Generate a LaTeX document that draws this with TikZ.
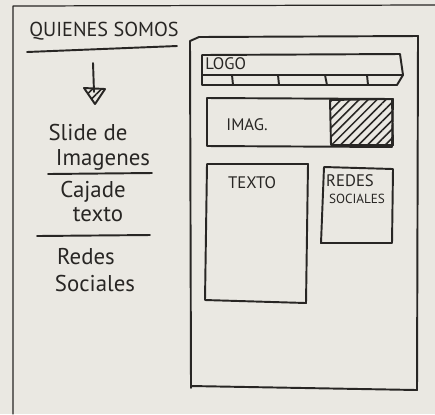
\documentclass[tikz,border=0pt]{standalone}
\usepackage{fontspec}
\setmainfont{PT Sans}
\usepackage{tikz}
\usetikzlibrary{calc,patterns,patterns.meta,positioning,arrows.meta}
\definecolor{paper}{RGB}{234,232,226}
\definecolor{ink}{RGB}{40,38,36}
\tikzset{
  sketch/.style={draw=ink,line width=1.1pt,line cap=round,line join=round},
  hand/.style={text=ink,font=\fontsize{13}{14}\selectfont,inner sep=0pt},
  caps/.style={text=ink,font=\fontsize{9.5}{10}\selectfont,inner sep=0pt},
  hatch/.style={pattern={Lines[angle=45,distance=3.6pt,line width=0.9pt]},pattern color=ink}
}
\begin{document}
\begin{tikzpicture}[x=0.02cm,y=-0.02cm,>=Stealth]
\fill[paper] (0,0) rectangle (435,414);
\useasboundingbox (0,0) rectangle (435,414);
% sheet edge
\draw[sketch,line width=0.7pt] (13,414) -- (13,6) -- (435,5);
% left column: site map
\node[caps,font=\fontsize{11.5}{12}\selectfont] (title) at (104,31) {QUIENES SOMOS};
\draw[sketch] (27,52) -- (177,46);
\coordinate (arrTop) at (93,63);
\coordinate (arrTip) at (95,104);
\draw[sketch] (arrTop) -- (94,92);
\draw[sketch,hatch] (84,88) -- (105,89) -- (arrTip) -- cycle;
\node[hand] (slide) at (88,132) {Slide de};
\node[hand] (imgs) at (103,160) {Imagenes};
\draw[sketch] (48,174) -- (152,173);
\node[hand] (caja) at (93,192) {Cajade};
\node[hand] (texto) at (98,215) {texto};
\draw[sketch] (37,236) -- (150,235);
\node[hand] (redes) at (86,257) {Redes};
\node[hand] (sociales) at (95,283) {Sociales};
% right column: page layout
\draw[sketch] (191,388) -- (190,41) -- (199,37) -- (418,36) -- (417,390) -- (191,386);
\draw[sketch] (202,55) -- (400,54) -- (403,75) -- (397,85) -- (202,85) -- cycle;
\draw[sketch] (202,75) -- (403,75);
\draw[sketch] (232,75) -- (233,85);
\draw[sketch] (278,75) -- (279,85);
\draw[sketch] (325,75) -- (327,85);
\draw[sketch] (367,75) -- (368,85);
\node[caps,anchor=west] (logo) at (205,64) {LOGO};
\draw[sketch,hatch] (330,100) -- (392,99) -- (393,145) -- (331,145) -- cycle;
\draw[sketch] (207,98) -- (393,99) -- (392,147) -- (207,146) -- cycle;
\node[caps] (imag) at (247,125) {IMAG.};
\draw[sketch] (207,164) -- (308,164) -- (306,303) -- (205,300) -- cycle;
\node[caps] (textbox) at (252,183) {TEXTO};
\draw[sketch] (324,167) -- (393,169) -- (392,243) -- (321,243) -- cycle;
\node[caps] (redbox) at (350,181) {REDES};
\node[caps,font=\fontsize{7.5}{8}\selectfont] (socbox) at (357,199) {SOCIALES};
\end{tikzpicture}
\end{document}
